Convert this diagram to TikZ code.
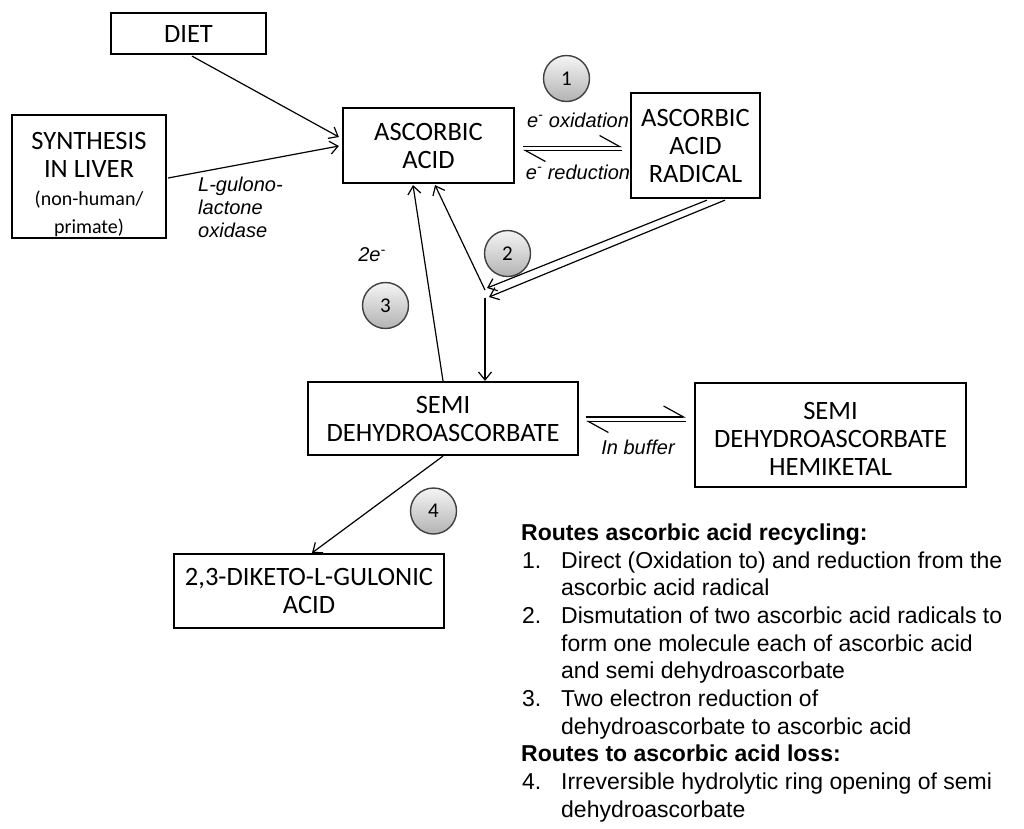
\documentclass[tikz,border=0pt]{standalone}
\usepackage{fontspec}
\setmainfont{Liberation Sans}
\newfontfamily\boxfont{Carlito}
\usetikzlibrary{arrows.meta,calc}
\begin{document}
\begin{tikzpicture}[x=1pt,y=-1pt,
  box/.style={draw, line width=2.2pt, inner sep=0pt, align=center, font=\boxfont\fontsize{26.5}{28}\selectfont},
  boxtext/.style={inner sep=0pt, align=center, font=\boxfont\fontsize{26.5}{28}\selectfont},
  arr/.style={line width=1.2pt, -{Straight Barb[length=8pt,width=13pt]}},
  harp/.style={line width=1.2pt, -{Straight Barb[left,length=20pt,width=22pt]}},
  lab/.style={font=\itshape\fontsize{20}{23}\selectfont, inner sep=0pt},
  num/.style={circle, draw=black!75, line width=1.4pt, top color=black!4, bottom color=black!30, minimum size=46pt, inner sep=0pt, font=\boxfont\fontsize{21}{21}\selectfont},
]
\useasboundingbox (0,0) rectangle (1024,828);
% boxes
\node[box, minimum width=155pt, minimum height=41pt] (diet) at (188.5,33.5) {DIET};
\node[box, minimum width=154pt, minimum height=123pt] (synth) at (89,176.5) {};
\node[boxtext] (synthtxt) at (89,185) {SYNTHESIS\\IN LIVER\\\fontsize{20}{27}\selectfont(non-human/\\\fontsize{20}{23}\selectfont primate)};
\node[box, minimum width=171pt, minimum height=75pt] (aa) at (428.5,145.5) {ASCORBIC\\ACID};
\node[box, minimum width=129pt, minimum height=105pt] (rad) at (695.5,145.5) {ASCORBIC\\ACID\\RADICAL};
\node[box, minimum width=270pt, minimum height=73pt] (semi) at (443,418.5) {SEMI\\DEHYDROASCORBATE};
\node[box, minimum width=271pt, minimum height=104pt] (hemi) at (830.5,435) {};
\node[boxtext] (hemitxt) at (830.5,439) {SEMI\\DEHYDROASCORBATE\\HEMIKETAL};
\node[box, minimum width=270pt, minimum height=74pt] (diketo) at (309,591) {2,3-DIKETO-L-GULONIC\\ACID};
% numbered circles
\node[num] (n1) at (566.5,78.5) {1};
\node[num] (n2) at (507.5,253.5) {2};
\node[num] (n3) at (385.5,305.5) {3};
\node[num] (n4) at (433.5,511) {4};
% labels
\node[lab] (ox) at (578,120) {e\textsuperscript{-} oxidation};
\node[lab] (red) at (578,172) {e\textsuperscript{-} reduction};
\node[lab, align=left, anchor=north west] (glo) at (198,177) {L-gulono-\\lactone\\oxidase};
\node[lab] (two) at (372,255) {2e\textsuperscript{-}};
\node[lab] (buf) at (638,447) {In buffer};
% junction points
\coordinate (j1) at (487,288);
\coordinate (j2) at (489,297);
% connectors
\draw[arr] ($(diet.south)+(3.5,1)$) -- ($(aa.west)+(-3,-8.5)$);
\draw[arr] ($(synth.east)+(1,1.5)$) -- ($(aa.west)+(-3,0.5)$);
\draw[arr] (semi.north) -- ($(aa.south)+(-15.5,1)$);
\draw[arr] ($(rad.south)+(11.5,1)$) -- (j1);
\draw[arr] ($(rad.south)+(29.5,1)$) -- (j2);
\draw[arr] ($(j1)+(-2,2)$) -- ($(aa.south)+(6.5,1)$);
\draw[arr] ($(j2)+(-4,1)$) -- ($(semi.north)+(42,0)$);
\draw[arr] (semi.south) -- ($(diketo.north)+(3,0)$);
\draw[harp] ($(aa.east)+(8,1)$) -- ($(rad.west)+(-8,1)$);
\draw[harp] ($(rad.west)+(-8,5)$) -- ($(aa.east)+(8,5)$);
\draw[harp] ($(semi.east)+(7,-1.5)$) -- ($(hemi.west)+(-8,-18)$);
\draw[harp] ($(hemi.west)+(-8,-13.5)$) -- ($(semi.east)+(7,3)$);
% notes
\node[anchor=north west, inner sep=0pt, align=left, font=\fontsize{23}{27.7}\selectfont] (notes) at (521,523.5) {\textbf{Routes ascorbic acid recycling:}\\
\hspace*{1pt}\makebox[39pt][l]{1.}Direct (Oxidation to) and reduction from the\\
\hspace*{40pt}ascorbic acid radical\\
\hspace*{1pt}\makebox[39pt][l]{2.}Dismutation of two ascorbic acid radicals to\\
\hspace*{40pt}form one molecule each of ascorbic acid\\
\hspace*{40pt}and semi dehydroascorbate\\
\hspace*{1pt}\makebox[39pt][l]{3.}Two electron reduction of\\
\hspace*{40pt}dehydroascorbate to ascorbic acid\\
\textbf{Routes to ascorbic acid loss:}\\
\hspace*{1pt}\makebox[39pt][l]{4.}Irreversible hydrolytic ring opening of semi\\
\hspace*{40pt}dehydroascorbate};
\end{tikzpicture}
\end{document}
